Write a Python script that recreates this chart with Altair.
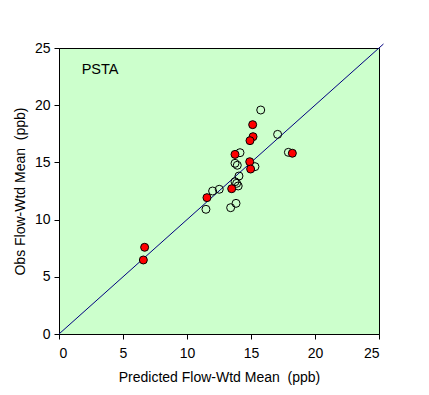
import altair as alt
import pandas as pd

open_x = [15.76, 17.08, 14.14, 17.92, 13.75, 13.93, 15.31, 14.06, 13.75, 13.88, 14.0, 12.0, 12.52, 11.48, 13.41, 13.83]
open_y = [19.58, 17.45, 15.85, 15.88, 14.92, 14.75, 14.63, 13.81, 13.31, 13.17, 12.94, 12.5, 12.65, 10.9, 11.04, 11.42]

red_x = [15.13, 15.16, 14.92, 13.75, 18.23, 14.9, 14.97, 13.49, 11.56, 6.69, 6.59]
red_y = [18.3, 17.25, 16.9, 15.7, 15.8, 15.06, 14.42, 12.7, 11.92, 7.58, 6.47]

line_vals = [0, 25.35]
label_text = ["PSTA"]
label_x = [1.77]
label_y = [23.1]

df_open = pd.DataFrame({"x": open_x, "y": open_y})
df_red = pd.DataFrame({"x": red_x, "y": red_y})
df_line = pd.DataFrame({"x": line_vals, "y": line_vals})
df_lab = pd.DataFrame({"t": label_text, "x": label_x, "y": label_y})

xs = alt.Scale(domain=[0, 25], nice=False, zero=False)
ys = alt.Scale(domain=[0, 25], nice=False, zero=False)

xax = alt.Axis(values=[0, 5, 10, 15, 20, 25], title="Predicted Flow-Wtd Mean \u00a0(ppb)")
yax = alt.Axis(values=[0, 5, 10, 15, 20, 25], title="Obs Flow-Wtd Mean \u00a0(ppb)")

line = alt.Chart(df_line).mark_line(color="#000080", strokeWidth=1, clip=False).encode(
    x=alt.X("x:Q", scale=xs, axis=xax),
    y=alt.Y("y:Q", scale=ys, axis=yax),
)

opens = alt.Chart(df_open).mark_point(shape="circle", filled=False, color="black", strokeWidth=1, size=64, opacity=1).encode(
    x="x:Q", y="y:Q"
)

reds = alt.Chart(df_red).mark_point(shape="circle", filled=True, fill="#FF0000", stroke="black", strokeWidth=1, size=64, opacity=1).encode(
    x="x:Q", y="y:Q"
)

lab = alt.Chart(df_lab).mark_text(align="left", baseline="middle", fontSize=14.5, font="Liberation Sans", color="black").encode(
    x="x:Q", y="y:Q", text="t:N"
)

chart = alt.layer(line, opens, reds, lab).properties(
    width=320, height=286,
    padding={"left": 51, "top": 40, "right": 42, "bottom": 53},
    autosize=alt.AutoSizeParams(type="none"),
).configure_view(
    fill="#CCFFCC", stroke="black", strokeWidth=1
).configure_axis(
    grid=False,
    domainColor="black",
    tickColor="black",
    tickSize=5,
    labelColor="black",
    titleColor="black",
    labelFont="Liberation Sans",
    titleFont="Liberation Sans",
    labelFontSize=14,
    titleFontSize=14,
    titleFontWeight="normal",
).configure_axisX(
    labelPadding=7, titlePadding=10
).configure_axisY(
    labelPadding=4, titlePadding=7
)

chart.save("out.html", embed_options={"renderer": "svg", "actions": False})
